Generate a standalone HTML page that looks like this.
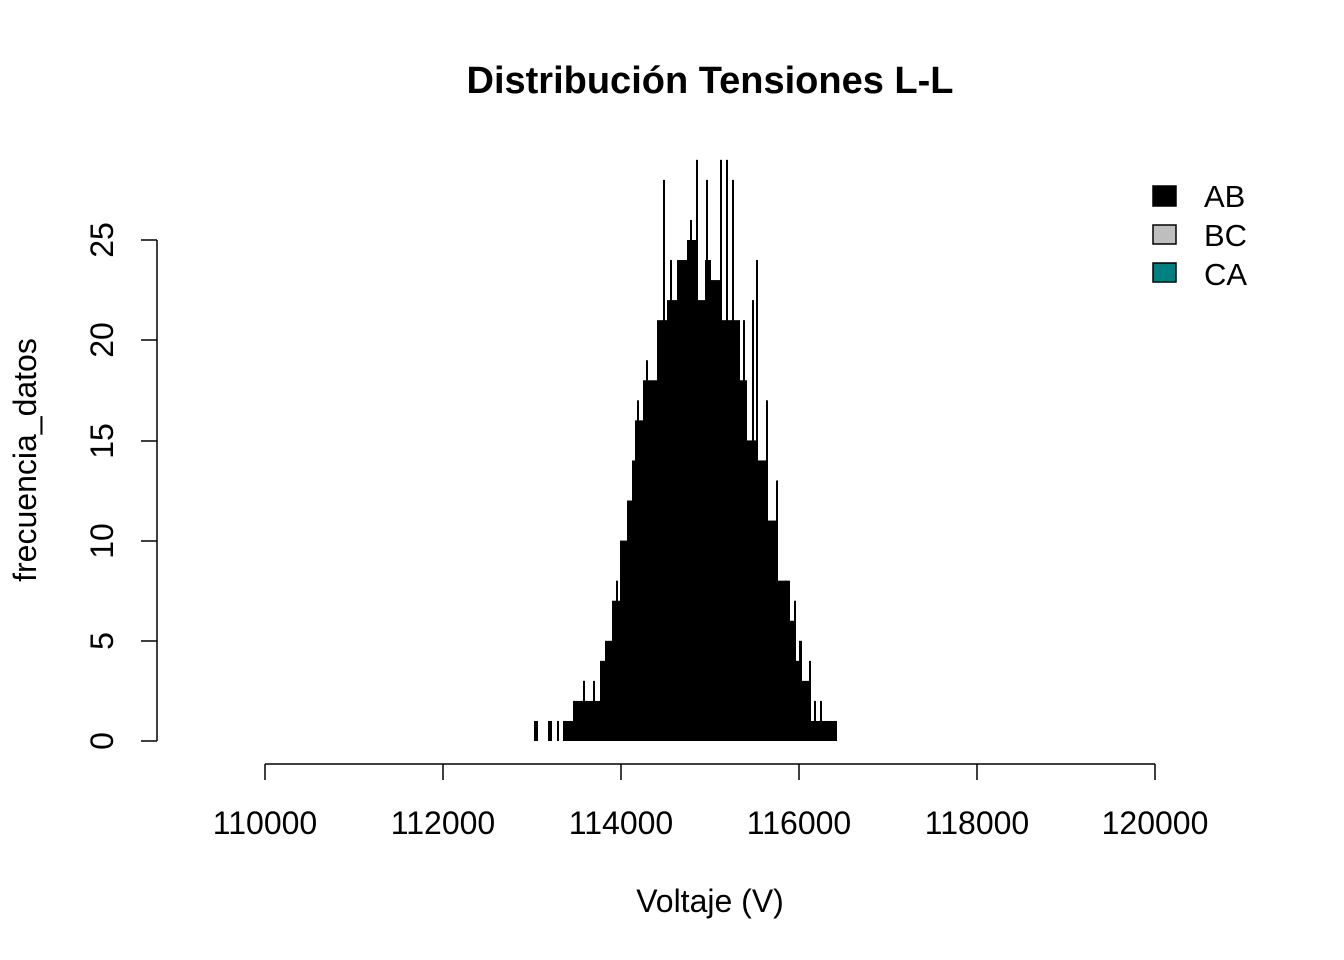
<!DOCTYPE html>
<html><head><meta charset="utf-8"><style>
html,body{margin:0;padding:0;background:#fff}
svg{display:block}
text{font-family:"Liberation Sans",Arial,sans-serif;fill:#000}
</style></head><body>
<svg id="s" width="1344" height="960" viewBox="0 0 1344 960" xmlns="http://www.w3.org/2000/svg">
<text x="710" y="93" font-size="38" font-weight="bold" text-anchor="middle">Distribución Tensiones L-L</text>
<g stroke="#000" stroke-width="1.5" fill="none">
<line x1="157" y1="240" x2="157" y2="741"/>
<line x1="141" y1="741" x2="157" y2="741"/>
<line x1="141" y1="641" x2="157" y2="641"/>
<line x1="141" y1="541" x2="157" y2="541"/>
<line x1="141" y1="441" x2="157" y2="441"/>
<line x1="141" y1="340" x2="157" y2="340"/>
<line x1="141" y1="240" x2="157" y2="240"/>
<line x1="265" y1="764" x2="1155" y2="764"/>
<line x1="265" y1="764" x2="265" y2="780"/>
<line x1="443" y1="764" x2="443" y2="780"/>
<line x1="621" y1="764" x2="621" y2="780"/>
<line x1="799" y1="764" x2="799" y2="780"/>
<line x1="977" y1="764" x2="977" y2="780"/>
<line x1="1155" y1="764" x2="1155" y2="780"/>
</g>
<g font-size="32" text-anchor="middle">
<text transform="translate(113,741) rotate(-90)">0</text>
<text transform="translate(113,641) rotate(-90)">5</text>
<text transform="translate(113,541) rotate(-90)">10</text>
<text transform="translate(113,441) rotate(-90)">15</text>
<text transform="translate(113,340) rotate(-90)">20</text>
<text transform="translate(113,240) rotate(-90)">25</text>
<text x="265" y="834">110000</text>
<text x="443" y="834">112000</text>
<text x="621" y="834">114000</text>
<text x="799" y="834">116000</text>
<text x="977" y="834">118000</text>
<text x="1155" y="834">120000</text>
<text x="710" y="912">Voltaje (V)</text>
<text transform="translate(36,460) rotate(-90)">frecuencia_datos</text>
</g>
<rect x="1153" y="186" width="23" height="20" fill="#000" stroke="#000" stroke-width="1.5"/>
<rect x="1153" y="225" width="23" height="19" fill="#bebebe" stroke="#000" stroke-width="1.5"/>
<rect x="1153" y="263" width="23" height="19" fill="#008080" stroke="#000" stroke-width="1.5"/>
<g font-size="31">
<text x="1204" y="207">AB</text>
<text x="1204" y="246">BC</text>
<text x="1204" y="285">CA</text>
</g>
<g id="h" fill="#000"></g>
</svg>
<script>
var seg=[[534,538,1],[548,552,1],[557,559,1],[563,573,1],[573,587,2],[583,585,3],[593,595,3],[587,600,2],[600,605,4],[605,612,5],[612,620,7],[616,618,8],[620,627,10],[627,632,12],[632,635,14],[635,643,16],[637,639,17],[643,657,18],[646,648,19],[657,667,21],[663,665,28],[667,677,22],[670,672,24],[677,687,24],[687,697,25],[690,692,26],[696,698,29],[697,705,22],[705,711,24],[706,708,28],[711,720,23],[720,722,29],[726,728,29],[722,732,21],[732,734,28],[734,740,21],[740,747,18],[743,745,21],[747,757,15],[752,754,22],[756,758,24],[757,767,14],[766,768,17],[767,777,11],[776,778,13],[777,790,8],[785,787,8],[790,795,6],[794,796,7],[795,800,4],[799,802,5],[800,810,3],[809,811,4],[810,830,1],[814,816,2],[820,822,2],[830,837,1]];
var g=document.getElementById('h'),s='';
seg.forEach(function(a){var h=a[2]*20.04;s+='<rect x="'+a[0]+'" y="'+(741-h)+'" width="'+(a[1]-a[0])+'" height="'+h+'"/>';});
g.innerHTML=s;
</script>
</body></html>
